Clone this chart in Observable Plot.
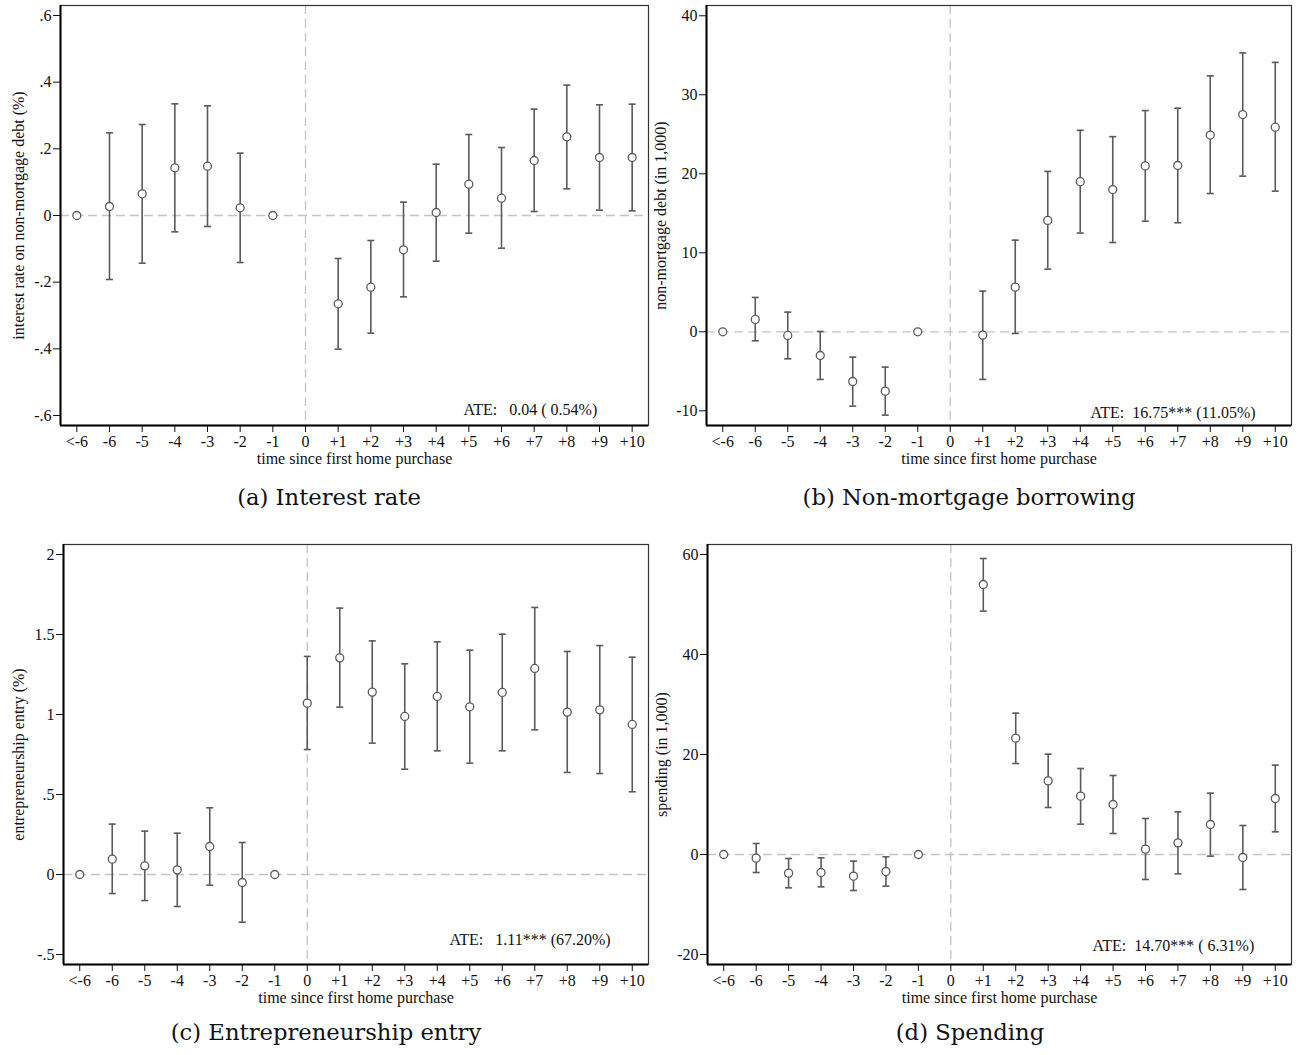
<!DOCTYPE html>
<html>
<head>
<meta charset="utf-8">
<script src="https://cdn.jsdelivr.net/npm/d3@7"></script>
<script src="https://cdn.jsdelivr.net/npm/@observablehq/plot@0.6"></script>
<style>
  html, body { margin: 0; padding: 0; background: #fff; }
  #root { position: relative; width: 1305px; height: 1055px; background: #fff; overflow: hidden; }
  .panel { position: absolute; }
  .cap { position: absolute; width: 600px; text-align: center; font-family: "DejaVu Serif", serif; font-size: 22.7px; color: #111; line-height: 1; }
</style>
</head>
<body>
<div id="root"></div>
<script>
// ---- shared categories ----
const timeValues = [-7, -6, -5, -4, -3, -2, -1, 0, 1, 2, 3, 4, 5, 6, 7, 8, 9, 10];
const timeLabels = ["<-6", "-6", "-5", "-4", "-3", "-2", "-1", "0", "+1", "+2", "+3", "+4", "+5", "+6", "+7", "+8", "+9", "+10"];
const xLabel = "time since first home purchase";

// ---- (a) Interest rate ----
const rateEst = [0, 0.027, 0.065, 0.143, 0.148, 0.023, 0, null, -0.265, -0.215, -0.103, 0.009, 0.094, 0.052, 0.165, 0.236, 0.174, 0.174];
const rateLo  = [null, -0.192, -0.143, -0.049, -0.033, -0.141, null, null, -0.401, -0.353, -0.244, -0.137, -0.053, -0.098, 0.012, 0.080, 0.016, 0.014];
const rateHi  = [null, 0.248, 0.273, 0.335, 0.329, 0.187, null, null, -0.129, -0.075, 0.040, 0.154, 0.243, 0.204, 0.319, 0.391, 0.332, 0.334];
const rateTicks = [-0.6, -0.4, -0.2, 0, 0.2, 0.4, 0.6];
const rateAte = "ATE:\u00a0\u00a0\u00a00.04 (\u00a00.54%)";

// ---- (b) Non-mortgage borrowing ----
const debtEst = [0, 1.56, -0.46, -3.0, -6.29, -7.51, 0, null, -0.42, 5.65, 14.1, 19.0, 18.0, 21.0, 21.05, 24.9, 27.5, 25.9];
const debtLo  = [null, -1.14, -3.42, -6.03, -9.41, -10.55, null, null, -6.03, -0.21, 7.93, 12.5, 11.3, 14.0, 13.8, 17.5, 19.7, 17.8];
const debtHi  = [null, 4.35, 2.49, 0.04, -3.21, -4.47, null, null, 5.15, 11.6, 20.3, 25.5, 24.7, 28.0, 28.3, 32.4, 35.3, 34.1];
const debtTicks = [-10, 0, 10, 20, 30, 40];
const debtAte = "ATE:\u00a0\u00a016.75*** (11.05%)";

// ---- (c) Entrepreneurship entry ----
const entryEst = [0, 0.096, 0.054, 0.029, 0.175, -0.05, 0, 1.071, 1.354, 1.14, 0.988, 1.113, 1.048, 1.138, 1.288, 1.015, 1.029, 0.938];
const entryLo  = [null, -0.119, -0.163, -0.2, -0.067, -0.298, null, 0.781, 1.046, 0.821, 0.658, 0.773, 0.696, 0.773, 0.904, 0.638, 0.631, 0.517];
const entryHi  = [null, 0.315, 0.271, 0.258, 0.417, 0.2, null, 1.363, 1.665, 1.46, 1.317, 1.454, 1.402, 1.502, 1.669, 1.394, 1.431, 1.358];
const entryTicks = [-0.5, 0, 0.5, 1, 1.5, 2];
const entryAte = "ATE:\u00a0\u00a0\u00a01.11*** (67.20%)";

// ---- (d) Spending ----
const spendEst = [0, -0.73, -3.73, -3.6, -4.33, -3.4, 0, null, 54.0, 23.27, 14.73, 11.67, 10.0, 1.07, 2.33, 6.0, -0.6, 11.2];
const spendLo  = [null, -3.6, -6.67, -6.47, -7.2, -6.33, null, null, 48.67, 18.2, 9.4, 6.07, 4.2, -5.0, -3.87, -0.33, -7.0, 4.53];
const spendHi  = [null, 2.2, -0.8, -0.67, -1.33, -0.47, null, null, 59.2, 28.27, 20.07, 17.2, 15.8, 7.2, 8.53, 12.27, 5.8, 17.87];
const spendTicks = [-20, 0, 20, 40, 60];
const spendAte = "ATE:\u00a0\u00a014.70*** (\u00a06.31%)";

// ---- drawing ----
const FONT = "'Liberation Serif', 'Times New Roman', serif";
const GRAY = "#5a5a5a";
const REF = "#c4c4c4";
const xDomain = [-7.5, 10.5];

function stataFmt(v) {
  const r = Math.round(v * 1000) / 1000;
  let s = String(r);
  s = s.replace(/^0\./, ".").replace(/^-0\./, "-.");
  return s;
}

const capSymbol = {
  draw(context) { context.moveTo(-3.5, 0); context.lineTo(3.5, 0); }
};

function panel(cfg) {
  const rows = timeValues.map((t, i) => ({t, est: cfg.est[i], lo: cfg.lo[i], hi: cfg.hi[i]}));
  const ci = rows.filter(d => d.lo != null && d.hi != null);
  const pts = rows.filter(d => d.est != null);
  const chart = Plot.plot({
    width: cfg.width,
    height: 470,
    marginLeft: cfg.ml,
    marginRight: cfg.mr,
    marginTop: 5,
    marginBottom: 45,
    style: {fontFamily: FONT, fontSize: "16px", color: "#111", background: "#fff", overflow: "visible"},
    x: {
      domain: xDomain,
      ticks: timeValues,
      tickFormat: v => timeLabels[timeValues.indexOf(v)],
      tickSize: 7,
      tickPadding: 3,
      label: xLabel,
      labelAnchor: "center",
      labelArrow: "none",
      labelOffset: 38
    },
    y: {
      domain: cfg.domain,
      ticks: cfg.ticks,
      tickFormat: stataFmt,
      tickSize: 7,
      tickPadding: 2,
      label: cfg.ylabel,
      labelAnchor: "center",
      labelArrow: "none",
      labelOffset: cfg.lo_off
    },
    marks: [
      Plot.ruleY([0], {stroke: REF, strokeWidth: 1.3, strokeDasharray: "9,5"}),
      Plot.ruleX([0], {stroke: REF, strokeWidth: 1.3, strokeDasharray: "9,5"}),
      Plot.ruleX(ci, {x: "t", y1: "lo", y2: "hi", stroke: GRAY, strokeWidth: 1.6}),
      Plot.dot(ci, {x: "t", y: "lo", symbol: capSymbol, stroke: GRAY, strokeWidth: 1.6, fill: "none"}),
      Plot.dot(ci, {x: "t", y: "hi", symbol: capSymbol, stroke: GRAY, strokeWidth: 1.6, fill: "none"}),
      Plot.dot(pts, {x: "t", y: "est", r: 4, stroke: GRAY, strokeWidth: 1.3, fill: "#fff"}),
      Plot.frame({stroke: "#333", strokeWidth: 1.2}),
      Plot.ruleX([xDomain[0]], {stroke: "#000", strokeWidth: 2}),
      Plot.ruleY([cfg.domain[0]], {stroke: "#000", strokeWidth: 2}),
      Plot.text([cfg.ate], {frameAnchor: "bottom-left", dx: cfg.ateDx, dy: cfg.ateDy, textAnchor: "start", lineAnchor: "middle", fontSize: 16, fill: "#111"})
    ]
  });
  // remove any arrow glyphs that an older Plot may add to axis labels
  chart.querySelectorAll('[aria-label="x-axis label"] text, [aria-label="y-axis label"] text').forEach(t => {
    t.textContent = t.textContent.replace(/\s*[\u2191\u2192\u2190\u2193]\s*/g, "").trim();
  });
  const div = document.createElement("div");
  div.className = "panel";
  div.style.left = cfg.left + "px";
  div.style.top = cfg.top + "px";
  div.appendChild(chart);
  document.getElementById("root").appendChild(div);

  const cap = document.createElement("div");
  cap.className = "cap";
  cap.textContent = cfg.caption;
  cap.style.left = (cfg.capX - 300) + "px";
  cap.style.top = (cfg.capY - 12) + "px";
  document.getElementById("root").appendChild(cap);
}

panel({left: 0, top: 0, width: 652, ml: 60, mr: 4, est: rateEst, lo: rateLo, hi: rateHi,
  domain: [-0.63, 0.63], ticks: rateTicks, ylabel: "interest rate on non-mortgage debt (%)", lo_off: 48,
  ate: rateAte, ateDx: 403, ateDy: -16, caption: "(a) Interest rate", capX: 329, capY: 498});
panel({left: 650, top: 0, width: 655, ml: 56, mr: 14, est: debtEst, lo: debtLo, hi: debtHi,
  domain: [-11.86, 41.3], ticks: debtTicks, ylabel: "non-mortgage debt (in 1,000)", lo_off: 52,
  ate: debtAte, ateDx: 384, ateDy: -13, caption: "(b) Non-mortgage borrowing", capX: 969, capY: 498});
panel({left: 0, top: 539, width: 652, ml: 63, mr: 4, est: entryEst, lo: entryLo, hi: entryHi,
  domain: [-0.5625, 2.0625], ticks: entryTicks, ylabel: "entrepreneurship entry (%)", lo_off: 51,
  ate: entryAte, ateDx: 386, ateDy: -25, caption: "(c) Entrepreneurship entry", capX: 326, capY: 1033});
panel({left: 650, top: 539, width: 655, ml: 57, mr: 14, est: spendEst, lo: spendLo, hi: spendHi,
  domain: [-22, 62], ticks: spendTicks, ylabel: "spending (in 1,000)", lo_off: 52,
  ate: spendAte, ateDx: 385, ateDy: -19, caption: "(d) Spending", capX: 970, capY: 1033});
</script>
</body>
</html>
